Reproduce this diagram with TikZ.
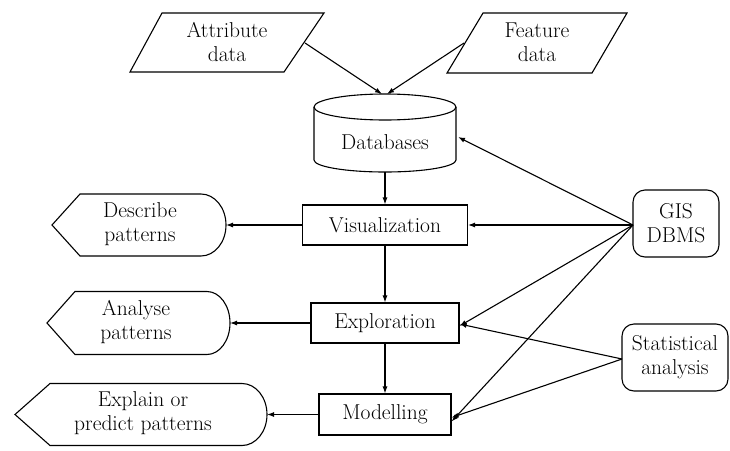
\documentclass[tikz,border=0pt]{standalone}
\usetikzlibrary{arrows.meta}
\begin{document}
\begin{tikzpicture}[x=1pt,y=-1pt,
  every node/.style={font=\fontsize{21.5}{24}\selectfont, align=center, inner sep=0pt},
  line/.style={line width=1.1pt},
  arr/.style={line width=1.1pt, -{Latex[length=7pt,width=5pt]}},
  procbox/.style={draw, line width=1.1pt, rectangle},
  toolbox/.style={draw, line width=1.1pt, rectangle, rounded corners=12pt}]
\useasboundingbox (0,0) rectangle (730,450);

% input parallelograms
\draw[line] (130,72) -- (162,13) -- (324,13) -- (284,72) -- cycle;
\node (attr) at (227,42) {Attribute\\data};
\coordinate (attrR) at (305,43);
\draw[line] (447,73) -- (483,13) -- (627,13) -- (592,73) -- cycle;
\node (feat) at (537,42) {Feature\\data};
\coordinate (featL) at (464,43);

% database cylinder
\draw[line] (314,107) -- (314,160) arc (180:0:71 and 12) -- (456,107);
\draw[line] (385,107) ellipse (71 and 13);
\node (db) at (385,142) {Databases};
\coordinate (dbT) at (385,94);
\coordinate (dbB) at (385,172);
\coordinate (dbR) at (458,137);

% process boxes
\node[procbox, minimum width=165pt, minimum height=40pt] (vis) at (385,225) {Visualization};
\node[procbox, minimum width=148pt, minimum height=40pt] (explo) at (385,323) {Exploration};
\node[procbox, minimum width=132pt, minimum height=41pt] (model) at (385,414.5) {Modelling};

% tools
\node[toolbox, minimum width=86pt, minimum height=67pt] (gis) at (676,223.5) {GIS\\DBMS};
\node[toolbox, minimum width=106pt, minimum height=67pt] (stat) at (675,357.5) {Statistical\\analysis};
\coordinate (gisL) at (633,225);
\coordinate (statL) at (622,359);

% output shapes
\draw[line] (52,225) -- (80,194) -- (201,194) arc (-90:90:25 and 31) -- (80,256) -- cycle;
\node (desc) at (140,224) {Describe\\patterns};
\coordinate (descR) at (226,225);
\draw[line] (47,323) -- (75,291.5) -- (207,291.5) arc (-90:90:23 and 31.5) -- (75,354.5) -- cycle;
\node (anal) at (136,322) {Analyse\\patterns};
\coordinate (analR) at (230,323);
\draw[line] (15,414.5) -- (50,383.5) -- (242,383.5) arc (-90:90:25 and 31) -- (50,445.5) -- cycle;
\node (expl) at (143,413) {Explain or\\predict patterns};
\coordinate (explR) at (267,414.5);

% connectors
\draw[arr] (attrR) -- ([xshift=-3pt]dbT);
\draw[arr] (featL) -- ([xshift=2pt]dbT);
\draw[arr] (dbB) -- (vis.north);
\draw[arr] (vis.south) -- (explo.north);
\draw[arr] (explo.south) -- (model.north);
\draw[arr] (vis.west) -- (descR);
\draw[arr] (explo.west) -- (analR);
\draw[arr] (model.west) -- (explR);
\draw[arr] (gisL) -- (dbR);
\draw[arr] (gisL) -- (vis.east);
\draw[arr] (gisL) -- ([yshift=-3pt]explo.east);
\draw[arr] (gisL) -- ([yshift=-7pt]model.east);
\draw[arr] (statL) -- ([yshift=-1pt]explo.east);
\draw[arr] (statL) -- ([yshift=-3pt]model.east);
\end{tikzpicture}
\end{document}
